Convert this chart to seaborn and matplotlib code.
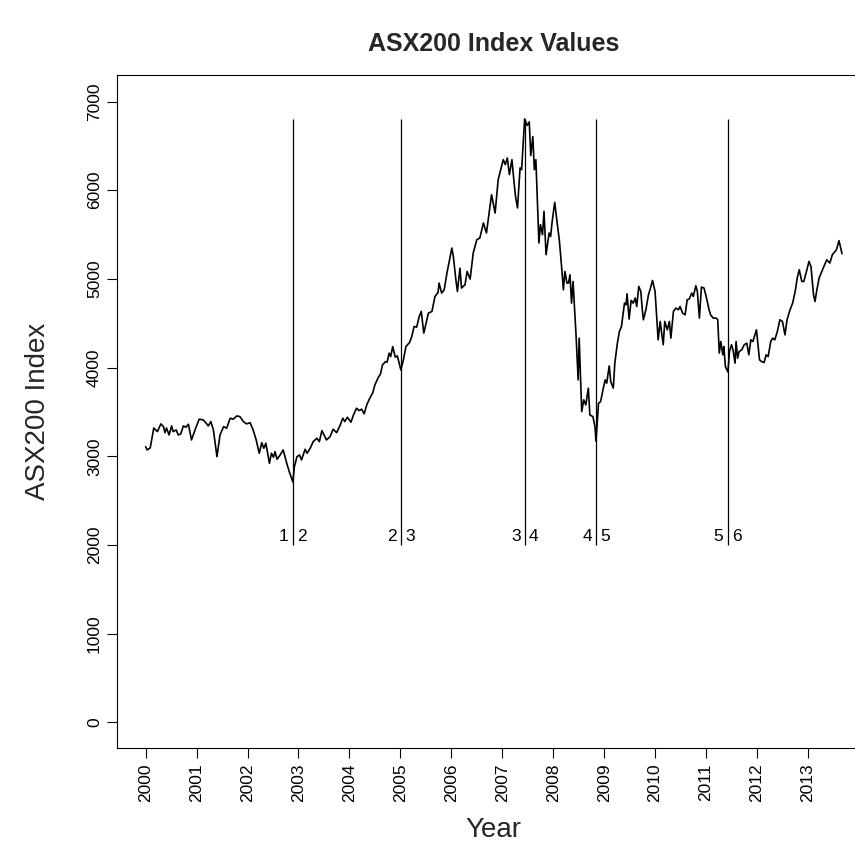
import matplotlib
matplotlib.use("Agg")
import matplotlib.pyplot as plt
import pandas as pd
import seaborn as sns

# ---- data ----
years = [2000.00, 2000.03, 2000.09, 2000.16, 2000.23, 2000.30, 2000.35, 2000.38, 2000.41, 2000.46,
         2000.51, 2000.54, 2000.60, 2000.64, 2000.69, 2000.74, 2000.79, 2000.84, 2000.90, 2000.97,
         2001.05, 2001.13, 2001.19, 2001.23, 2001.28, 2001.33, 2001.40, 2001.46, 2001.53, 2001.59,
         2001.66, 2001.72, 2001.79, 2001.85, 2001.92, 2001.98, 2002.05, 2002.11, 2002.17, 2002.23,
         2002.28, 2002.32, 2002.36, 2002.43, 2002.47, 2002.51, 2002.54, 2002.58, 2002.64, 2002.70,
         2002.77, 2002.82, 2002.89, 2002.92, 2002.97, 2003.02, 2003.06, 2003.13, 2003.17, 2003.23,
         2003.29, 2003.36, 2003.41, 2003.46, 2003.55, 2003.62, 2003.68, 2003.75, 2003.82, 2003.87,
         2003.91, 2003.96, 2004.03, 2004.08, 2004.14, 2004.19, 2004.24, 2004.29, 2004.34, 2004.40,
         2004.46, 2004.50, 2004.57, 2004.61, 2004.65, 2004.71, 2004.74, 2004.78, 2004.81, 2004.85,
         2004.90, 2004.94, 2005.01, 2005.06, 2005.11, 2005.18, 2005.22, 2005.27, 2005.32, 2005.37,
         2005.41, 2005.46, 2005.55, 2005.62, 2005.68, 2005.74, 2005.76, 2005.81, 2005.86, 2005.92,
         2005.96, 2006.01, 2006.04, 2006.09, 2006.12, 2006.17, 2006.20, 2006.27, 2006.31, 2006.37,
         2006.43, 2006.50, 2006.56, 2006.63, 2006.69, 2006.75, 2006.79, 2006.86, 2006.92, 2006.97,
         2007.02, 2007.06, 2007.10, 2007.14, 2007.19, 2007.23, 2007.26, 2007.30, 2007.35, 2007.38,
         2007.44, 2007.49, 2007.53, 2007.56, 2007.60, 2007.63, 2007.66, 2007.72, 2007.75, 2007.79,
         2007.82, 2007.86, 2007.92, 2007.95, 2007.98, 2008.03, 2008.07, 2008.12, 2008.17, 2008.20,
         2008.23, 2008.27, 2008.30, 2008.33, 2008.36, 2008.39, 2008.45, 2008.49, 2008.51, 2008.56,
         2008.60, 2008.64, 2008.69, 2008.72, 2008.78, 2008.82, 2008.84, 2008.89, 2008.93, 2008.97,
         2009.02, 2009.05, 2009.10, 2009.13, 2009.18, 2009.21, 2009.26, 2009.30, 2009.34, 2009.40,
         2009.43, 2009.45, 2009.49, 2009.53, 2009.57, 2009.61, 2009.64, 2009.68, 2009.72, 2009.75,
         2009.77, 2009.82, 2009.87, 2009.91, 2009.95, 2010.00, 2010.06, 2010.10, 2010.13, 2010.16,
         2010.19, 2010.24, 2010.28, 2010.31, 2010.36, 2010.41, 2010.46, 2010.49, 2010.54, 2010.59,
         2010.63, 2010.67, 2010.72, 2010.75, 2010.80, 2010.83, 2010.87, 2010.91, 2010.96, 2011.01,
         2011.06, 2011.09, 2011.14, 2011.20, 2011.23, 2011.26, 2011.29, 2011.33, 2011.35, 2011.38,
         2011.43, 2011.46, 2011.50, 2011.53, 2011.57, 2011.59, 2011.62, 2011.65, 2011.70, 2011.75,
         2011.80, 2011.84, 2011.88, 2011.92, 2011.96, 2011.99, 2012.05, 2012.09, 2012.14, 2012.18,
         2012.22, 2012.27, 2012.31, 2012.35, 2012.40, 2012.45, 2012.50, 2012.55, 2012.59, 2012.65,
         2012.70, 2012.75, 2012.79, 2012.83, 2012.88, 2012.92, 2012.98, 2013.02, 2013.06, 2013.11,
         2013.14, 2013.17, 2013.22, 2013.30, 2013.37, 2013.43, 2013.48, 2013.56, 2013.61, 2013.67]

index_values = [3108, 3071, 3094, 3319, 3278, 3365, 3334, 3266, 3319, 3240,
                3342, 3278, 3297, 3240, 3252, 3342, 3327, 3361, 3184, 3297,
                3418, 3410, 3372, 3342, 3391, 3297, 2995, 3240, 3334, 3316,
                3429, 3418, 3455, 3447, 3391, 3365, 3379, 3297, 3184, 3034,
                3153, 3090, 3147, 2921, 3034, 2989, 3052, 2966, 3015, 3071,
                2921, 2826, 2710, 2882, 2995, 3015, 2958, 3079, 3034, 3090,
                3165, 3203, 3165, 3289, 3184, 3221, 3305, 3266, 3353, 3429,
                3391, 3440, 3384, 3466, 3542, 3515, 3531, 3478, 3579, 3655,
                3718, 3805, 3892, 3929, 4031, 4068, 4061, 4163, 4124, 4237,
                4118, 4132, 3974, 4087, 4237, 4283, 4343, 4463, 4456, 4576,
                4633, 4389, 4614, 4633, 4802, 4847, 4953, 4840, 4877, 5084,
                5197, 5348, 5253, 4990, 4858, 5122, 4897, 4934, 5084, 4998,
                5292, 5442, 5461, 5631, 5518, 5781, 5950, 5743, 6119, 6232,
                6345, 6289, 6364, 6176, 6345, 6100, 5931, 5800, 6252, 6232,
                6805, 6730, 6770, 6391, 6605, 6232, 6345, 5405, 5611, 5499,
                5762, 5273, 5518, 5479, 5649, 5863, 5668, 5442, 5103, 4877,
                5084, 4953, 4953, 5047, 4727, 4971, 4350, 3861, 4332, 3503,
                3636, 3579, 3768, 3466, 3447, 3334, 3170, 3598, 3616, 3729,
                3861, 3824, 4019, 3842, 3768, 4050, 4276, 4407, 4463, 4727,
                4708, 4832, 4547, 4757, 4727, 4784, 4689, 4915, 4858, 4652,
                4539, 4652, 4821, 4897, 4982, 4858, 4313, 4520, 4389, 4257,
                4520, 4426, 4520, 4332, 4633, 4671, 4652, 4689, 4614, 4595,
                4765, 4772, 4840, 4802, 4923, 4858, 4558, 4908, 4897, 4784,
                4652, 4595, 4558, 4558, 4539, 4163, 4294, 4144, 4237, 4012,
                3950, 4181, 4257, 4200, 4050, 4294, 4106, 4181, 4200, 4257,
                4276, 4144, 4313, 4294, 4369, 4426, 4087, 4068, 4057, 4144,
                4124, 4294, 4332, 4313, 4407, 4539, 4520, 4369, 4539, 4652,
                4727, 4858, 5010, 5103, 4971, 4971, 5103, 5197, 5141, 4821,
                4745, 4858, 5010, 5122, 5216, 5179, 5273, 5329, 5431, 5284]

break_years = [2002.887, 2005.007, 2007.441, 2008.840, 2011.425]
left_labels = ["1", "2", "3", "4", "5"]
right_labels = ["2", "3", "4", "5", "6"]
break_low, break_high = 2000, 6805
segment_label_value = 2090

tick_years = list(range(2000, 2014))
y_ticks = list(range(0, 7001, 1000))

title = "ASX200 Index Values"
x_label = "Year"
y_label = "ASX200 Index"

# ---- figure ----
sns.set_theme(style="white")
plt.rcParams["font.family"] = ["Liberation Sans", "DejaVu Sans"]

fig = plt.figure(figsize=(8.55, 8.47), dpi=100)
ax = fig.add_axes([0.1372, 0.1169, 0.8803, 0.7946])

df = pd.DataFrame({"Year": years, "Index": index_values})
sns.lineplot(data=df, x="Year", y="Index", ax=ax, color="black",
             linewidth=1.2, estimator=None, sort=False, legend=False)

ax.vlines(break_years, break_low, break_high, colors="black", linewidth=0.9)
for bx, lt, rt in zip(break_years, left_labels, right_labels):
    ax.annotate(lt, (bx, segment_label_value), xytext=(-3, 0), textcoords="offset points",
                ha="right", va="center", fontsize=12.5, color="black")
    ax.annotate(rt, (bx, segment_label_value), xytext=(3, 0), textcoords="offset points",
                ha="left", va="center", fontsize=12.5, color="black")

ax.set_xlim(1999.444, 2014.218)
ax.set_ylim(-290, 7300)

ax.set_xticks(tick_years)
ax.set_xticklabels([str(y) for y in tick_years], rotation=90)
ax.set_yticks(y_ticks)
ax.set_yticklabels([str(v) for v in y_ticks], rotation=90, va="center")

ax.tick_params(axis="both", direction="out", length=7, width=0.8, pad=4,
               labelsize=12.5, color="black", labelcolor="black",
               bottom=True, left=True)
for s in ax.spines.values():
    s.set_color("black")
    s.set_linewidth(0.8)

ax.set_xlabel(x_label, fontsize=20, va="center")
ax.xaxis.set_label_coords(0.5, -0.1218)
ax.set_ylabel(y_label, fontsize=20, va="center")
ax.yaxis.set_label_coords(-0.1054, 0.5)

ax.set_title(title, fontsize=18, fontweight="bold", y=1.034, va="center")

fig.savefig("out.png", dpi=100)
